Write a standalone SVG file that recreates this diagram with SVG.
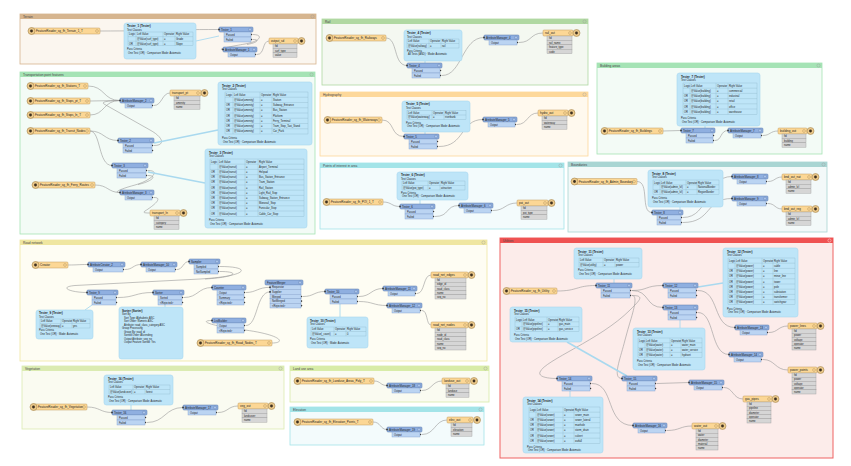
<svg xmlns="http://www.w3.org/2000/svg" width="851" height="466" viewBox="0 0 851 466">
<defs>
<style>
text{font-family:"Liberation Sans",Arial,sans-serif;font-size:3px;fill:#222}
.gl{font-size:3.2px;fill:#444}
.b{font-weight:bold}
.s{font-size:2.6px}
.h{font-size:2.8px}
.th{fill:#8fafe0;stroke:#5a78aa;stroke-width:.5}
.tp{fill:#bbd4f2;stroke:#7f9dca;stroke-width:.4}
.ti{fill:#aac4ea;stroke:#5a78aa;stroke-width:.4}
.rd{fill:#fcd795;stroke:#c09a5e;stroke-width:.5}
.rc{fill:#ecc98a;stroke:#a58650;stroke-width:.6}
.rdt{fill:#3d3020}
.ri{fill:none;stroke:#a58650;stroke-width:.4}
.wr{fill:#d6d6d6;stroke:#9c9c9c;stroke-width:.4}
.an{fill:#bee5f8;stroke:#a8d7ef;stroke-width:.6}
.tl{fill:none;stroke:#86acc0;stroke-width:.3}
.c{fill:none;stroke:#999;stroke-width:.6}
.al{fill:none;stroke:#a9d9ef;stroke-width:1.6}
.as{fill:none;stroke:#a9d9ef;stroke-width:.9}
.cx{fill:none;stroke:#9a9a9a;stroke-width:.4}
</style>
<path id="op" d="M0,-1.1L1.5,0L0,1.1z" fill="#333"/>
<rect id="ip" x="-0.8" y="-0.8" width="1.6" height="1.6" fill="#333"/>
</defs>
<rect width="851" height="466" fill="#fff"/>

<g id="bookmarks">
<g id="bm-1"><rect x="20" y="14" width="296" height="50" fill="#fbf6ef" stroke="#d6b58f" stroke-width=".8"/><rect x="20" y="14" width="296" height="5" fill="#d6b58f"/><text class="gl" x="23" y="17.8">Terrain</text><circle class="cx" cx="312.5" cy="16.5" r="1.6"/></g>
<g id="bm-2"><rect x="20" y="72" width="295" height="162" fill="#f3fbf6" stroke="#a5e3b5" stroke-width=".8"/><rect x="20" y="72" width="295" height="5" fill="#a5e3b5"/><text class="gl" x="23" y="75.8">Transportation point features</text><circle class="cx" cx="311.5" cy="74.5" r="1.6"/></g>
<g id="bm-3"><rect x="322" y="19" width="266" height="66" fill="#f4f8f1" stroke="#b0d8a2" stroke-width=".8"/><rect x="322" y="19" width="266" height="5" fill="#b0d8a2"/><text class="gl" x="325" y="22.8">Rail</text><circle class="cx" cx="584.5" cy="21.5" r="1.6"/></g>
<g id="bm-4"><rect x="320" y="92" width="268" height="64" fill="#fff9ee" stroke="#fdd89a" stroke-width=".8"/><rect x="320" y="92" width="268" height="5" fill="#fdd89a"/><text class="gl" x="323" y="95.8">Hydrography</text><circle class="cx" cx="584.5" cy="94.5" r="1.6"/></g>
<g id="bm-5"><rect x="320" y="163" width="244" height="66" fill="#f3fbfc" stroke="#a3e4e8" stroke-width=".8"/><rect x="320" y="163" width="244" height="5" fill="#a3e4e8"/><text class="gl" x="323" y="166.8">Points of interest in area</text><circle class="cx" cx="560.5" cy="165.5" r="1.6"/></g>
<g id="bm-6"><rect x="597" y="63" width="225" height="91" fill="#f3fbf6" stroke="#a5e3b5" stroke-width=".8"/><rect x="597" y="63" width="225" height="5" fill="#a5e3b5"/><text class="gl" x="600" y="66.8">Building areas</text><circle class="cx" cx="818.5" cy="65.5" r="1.6"/></g>
<g id="bm-7"><rect x="568" y="162" width="259" height="70" fill="#f3f9f9" stroke="#a9d5d3" stroke-width=".8"/><rect x="568" y="162" width="259" height="5" fill="#a9d5d3"/><text class="gl" x="571" y="165.8">Boundaries</text><circle class="cx" cx="823.5" cy="164.5" r="1.6"/></g>
<g id="bm-8"><rect x="20" y="240" width="467" height="121" fill="#fefdf3" stroke="#efe6a0" stroke-width=".8"/><rect x="20" y="240" width="467" height="5" fill="#efe6a0"/><text class="gl" x="23" y="243.8">Road network</text><circle class="cx" cx="483.5" cy="242.5" r="1.6"/></g>
<g id="bm-9"><rect x="500" y="238" width="333" height="220" fill="#fcecea" stroke="#ef6262" stroke-width="1"/><rect x="500" y="238" width="333" height="5" fill="#ef5252"/><text class="gl" x="503" y="241.8" fill="#fff">Utilities</text><circle cx="829.5" cy="240.5" r="1.6" fill="none" stroke="#fff" stroke-width=".4"/></g>
<g id="bm-10"><rect x="22" y="366" width="262" height="63" fill="#fafbf1" stroke="#dbebb2" stroke-width=".8"/><rect x="22" y="366" width="262" height="5" fill="#dbebb2"/><text class="gl" x="25" y="369.8">Vegetation</text><circle class="cx" cx="280.5" cy="368.5" r="1.6"/></g>
<g id="bm-11"><rect x="290" y="366" width="199" height="36" fill="#fafbf1" stroke="#d8eca8" stroke-width=".8"/><rect x="290" y="366" width="199" height="5" fill="#d8eca8"/><text class="gl" x="293" y="369.8">Land use area</text><circle class="cx" cx="485.5" cy="368.5" r="1.6"/></g>
<g id="bm-12"><rect x="290" y="407" width="194" height="38" fill="#f3fbfc" stroke="#a3e4e8" stroke-width=".8"/><rect x="290" y="407" width="194" height="5" fill="#a3e4e8"/><text class="gl" x="293" y="410.8">Elevation</text><circle class="cx" cx="480.5" cy="409.5" r="1.6"/></g>
</g>

<g id="connectors">
<path class="c" d="M100,31 C160,31 160,29.5 219,29.5"/>
<path class="c" d="M253,34.5 C263,34.5 262,41 245,44 C230,46.5 216,49.5 223,49.5"/>
<path class="c" d="M253,39.5 C260,39.5 258,42.5 247,44.5"/>
<path class="c" d="M257,54.5 C265,54.5 262,41 269,41"/>
<path class="as" d="M196,41 L219,36"/>

<path class="c" d="M88,86 C105,86 103,100.5 120,100.5"/>
<path class="c" d="M90,101 L120,100.5"/>
<path class="c" d="M90,115 C105,115 103,100.5 120,100.5"/>
<path class="c" d="M90,131 C104,131 104,140.5 118,140.5"/>
<path class="c" d="M90,131 C101,131 98,165.5 112,165.5"/>
<path class="c" d="M154,145.5 C166,145.5 163,137 150,130 L104,104 C100,101.5 112,100.5 120,100.5"/>
<path class="c" d="M148,170.5 C162,170.5 150,181 135,185 C122,188.5 112,192.5 120,192.5"/>
<path class="c" d="M148,175.5 C158,175.5 152,181.5 138,184.5"/>
<path class="c" d="M95,185 C108,185 108,192.5 120,192.5"/>
<path class="c" d="M154,197.5 C165,197.5 150,208 145,211 C142,213 146,213 150,213"/>
<path class="c" d="M154,105.5 C162,105.5 162,93 170,93"/>
<path class="al" d="M218,130 L154,143"/>
<path class="al" d="M205,183 L148,172"/>

<path class="c" d="M386,38 C398,38 393,65.5 407,65.5"/>
<path class="c" d="M442,75.5 C462,75.5 462,37.5 484,37.5"/>
<path class="c" d="M519,42.5 C532,42.5 530,33 543,33"/>
<path class="as" d="M425,61 V63"/>

<path class="c" d="M382,120 C395,120 390,136.5 404,136.5"/>
<path class="c" d="M439,146.5 C465,146.5 460,119.5 483,119.5"/>
<path class="c" d="M517,124.5 C528,124.5 527,113 538,113"/>
<path class="as" d="M425,132 V134"/>

<path class="c" d="M383,202 C392,202 391,206.5 400,206.5"/>
<path class="c" d="M435,216.5 C450,216.5 445,205.5 459,205.5"/>
<path class="c" d="M493,210.5 C505,210.5 505,203 517,203"/>
<path class="as" d="M420,200 V204"/>

<path class="c" d="M663,131 L681,130.5"/>
<path class="c" d="M715,140.5 C722,140.5 720,130.5 728,130.5"/>
<path class="c" d="M763,135.5 C770,135.5 770,131 778,131"/>
<path class="as" d="M705,126 V128"/>

<path class="c" d="M637,181.5 C650,181.5 640,212.5 652,212.5"/>
<path class="c" d="M683,217.5 C710,217.5 705,176.5 732,176.5"/>
<path class="c" d="M683,222.5 C712,222.5 705,198.5 732,198.5"/>
<path class="c" d="M768,181.5 C775,181.5 775,177 782,177"/>
<path class="c" d="M768,203.5 C775,203.5 775,209 782,209"/>
<path class="as" d="M680,207 V210"/>

<path class="c" d="M68,265 C78,265 78,264.5 88,264.5"/>
<path class="c" d="M125,269.5 C133,269.5 133,264.5 141,264.5"/>
<path class="c" d="M177,269.5 C183,269.5 183,261.5 189,261.5"/>
<path class="c" d="M220,266.5 C252,266.5 250,276 200,279 L75,285.5 C58,287 70,292.5 87,292.5"/>
<path class="c" d="M220,271.5 C240,271.5 238,277 205,279"/>
<path class="c" d="M118,297.5 C135,297.5 135,292.5 153,292.5"/>
<path class="c" d="M184,297.5 C198,297.5 198,287.5 212,287.5"/>
<path class="c" d="M246,292.5 C256,292.5 258,287.3 270,287.3"/>
<path class="c" d="M246,325.5 C258,325.5 256,291.9 270,291.9"/>
<path class="c" d="M272,343 C286,343 282,335 245,330 C210,326 198,320.5 212,320.5"/>
<path class="c" d="M303,296.5 C314,296.5 314,291.5 325,291.5"/>
<path class="c" d="M359,296.5 C371,296.5 371,288.5 383,288.5"/>
<path class="c" d="M359,301.5 C373,301.5 373,305.5 387,305.5"/>
<path class="c" d="M417,293.5 C425,293.5 423,275 431,275"/>
<path class="c" d="M422,310.5 C428,310.5 426,325 431,325"/>
<path class="as" d="M85,310 L92,305"/>
<path class="as" d="M165,307 V305"/>
<path class="as" d="M340,317 V304"/>

<path class="c" d="M557,291 C578,291 576,285.5 596,285.5"/>
<path class="c" d="M632,290.5 C648,290.5 645,285.5 663,285.5"/>
<path class="c" d="M632,290.5 C650,290.5 645,307.5 663,307.5"/>
<path class="c" d="M632,295.5 C645,295.5 640,300 630,310 C600,340 545,360 540,372 C538,377 548,378.5 557,378.5"/>
<path class="c" d="M632,295.5 C640,295.5 630,320 625,340 C620,360 612,378.5 622,378.5"/>
<path class="c" d="M698,290.5 C720,290.5 712,327.5 735,327.5"/>
<path class="c" d="M698,312.5 C715,312.5 710,354.5 729,354.5"/>
<path class="c" d="M769,332.5 C778,332.5 778,326 788,326"/>
<path class="c" d="M763,359.5 C775,359.5 775,370 788,370"/>
<path class="c" d="M592,383.5 C615,383.5 605,425.5 633,425.5"/>
<path class="c" d="M657,383.5 L689,382.5"/>
<path class="c" d="M724,387.5 C733,387.5 733,399 743,399"/>
<path class="c" d="M667,430.5 C680,430.5 680,426 692,426"/>
<path class="as" d="M614,279 V283"/>
<path class="al" d="M723,283 L698,287"/>
<path class="al" d="M567,342 L627,376"/>
<path class="as" d="M680,328 V320"/>
<path class="as" d="M570,397 V391"/>

<path class="c" d="M87,407 C100,407 100,412.5 112,412.5"/>
<path class="c" d="M147,422.5 C165,422.5 165,407.5 183,407.5"/>
<path class="c" d="M218,412.5 C228,412.5 228,406 238,406"/>
<path class="as" d="M131,405 V410"/>

<path class="c" d="M374,381 C381,381 380,385.5 387,385.5"/>
<path class="c" d="M422,390.5 C432,390.5 432,381 442,381"/>
<path class="c" d="M373,422 C381,422 380,429.5 387,429.5"/>
<path class="c" d="M422,434.5 C435,434.5 435,420 447,420"/>
</g>

<!-- ===== G1 ===== -->
<g id="reader-terrain"><rect class="rd" x="30" y="28" width="70" height="6" rx="1"/><circle class="rc" cx="31.5" cy="31" r="3.5"/><circle class="rdt" cx="31.5" cy="31" r="1.4"/><text x="36" y="32.1">FeatureReader_sg_fh_Terrain_1_T</text><circle class="ri" cx="97" cy="31" r="1.4"/></g>
<g id="ann-1"><rect class="an" x="124" y="23" width="72" height="36" rx="2.5"/><text class="b" x="127" y="27">Tester_1 (Tester)</text><text class="s" x="127" y="30.5">Test Clauses</text><rect class="tl" x="128" y="32" width="65" height="13.8"/><path class="tl" d="M128,36.6H193M128,41.2H193M136,32V45.8M163,32V45.8M175,32V45.8"/><text class="s" x="129" y="35.3">Logic</text><text class="s" x="137" y="35.3">Left Value</text><text class="s" x="164" y="35.3">Operator</text><text class="s" x="176" y="35.3">Right Value</text><text class="s" x="137" y="39.9">@Value(surf_type)</text><text class="s" x="164" y="39.9">=</text><text class="s" x="176" y="39.9">Grade</text><text class="s" x="129" y="44.5">OR</text><text class="s" x="137" y="44.5">@Value(surf_type)</text><text class="s" x="164" y="44.5">=</text><text class="s" x="176" y="44.5">Slope</text><text class="s" x="127" y="50">Pass Criteria</text><text class="s" x="128" y="53.5">One Test (OR) · Comparison Mode: Automatic</text></g>
<g id="tester-1"><rect class="th" x="219" y="27" width="34" height="5" rx="1"/><circle class="ti" cx="250" cy="29.5" r="1.5"/><text class="h" x="221" y="30.6">Tester_1</text><rect class="tp" x="224" y="32" width="27" height="5"/><text class="s" x="226" y="35.5">Passed</text><rect class="tp" x="224" y="37" width="27" height="5"/><text class="s" x="226" y="40.5">Failed</text><use href="#ip" x="219" y="29.5"/><use href="#op" x="251" y="34.5"/><use href="#op" x="251" y="39.5"/></g>
<g id="attrmgr-1"><rect class="th" x="223" y="47" width="34" height="5" rx="1"/><circle class="ti" cx="254" cy="49.5" r="1.5"/><text class="h" x="225" y="50.6">AttributeManager_1</text><rect class="tp" x="228" y="52" width="27" height="5"/><text class="s" x="230" y="55.5">Output</text><use href="#ip" x="223" y="49.5"/><use href="#op" x="255" y="54.5"/></g>
<g id="writer-1"><rect class="rd" x="269" y="38" width="29" height="6" rx="1"/><text x="271" y="42">output_sd</text><circle class="ri" cx="295" cy="41" r="1.4"/><circle class="rc" cx="301.5" cy="41" r="3.5"/><circle class="rdt" cx="301.5" cy="41" r="1.4"/><rect class="wr" x="273" y="44" width="24" height="4.4"/><text class="s" x="275" y="47.3">fid</text><rect class="wr" x="273" y="48.4" width="24" height="4.4"/><text class="s" x="275" y="51.7">surf_type</text><rect class="wr" x="273" y="52.8" width="24" height="4.4"/><text class="s" x="275" y="56.1">value</text></g>

<!-- ===== G2 ===== -->
<g id="reader-2a"><rect class="rd" x="29" y="83" width="59" height="6" rx="1"/><circle class="rc" cx="30.5" cy="86" r="3.5"/><circle class="rdt" cx="30.5" cy="86" r="1.4"/><text x="35" y="87.1">FeatureReader_sg_fh_Stations_T</text><circle class="ri" cx="85" cy="86" r="1.4"/></g>
<g id="reader-2b"><rect class="rd" x="29" y="98" width="61" height="6" rx="1"/><circle class="rc" cx="30.5" cy="101" r="3.5"/><circle class="rdt" cx="30.5" cy="101" r="1.4"/><text x="35" y="102.1">FeatureReader_sg_fh_Stops_pt_T</text><circle class="ri" cx="87" cy="101" r="1.4"/></g>
<g id="reader-2c"><rect class="rd" x="29" y="112" width="61" height="6" rx="1"/><circle class="rc" cx="30.5" cy="115" r="3.5"/><circle class="rdt" cx="30.5" cy="115" r="1.4"/><text x="35" y="116.1">FeatureReader_sg_fh_Stops_ln_T</text><circle class="ri" cx="87" cy="115" r="1.4"/></g>
<g id="reader-2d"><rect class="rd" x="29" y="128" width="61" height="6" rx="1"/><circle class="rc" cx="30.5" cy="131" r="3.5"/><circle class="rdt" cx="30.5" cy="131" r="1.4"/><text x="35" y="132.1">FeatureReader_sg_fh_Transit_Nodes</text><circle class="ri" cx="87" cy="131" r="1.4"/></g>
<g id="reader-2e"><rect class="rd" x="34" y="182" width="61" height="6" rx="1"/><circle class="rc" cx="35.5" cy="185" r="3.5"/><circle class="rdt" cx="35.5" cy="185" r="1.4"/><text x="40" y="186.1">FeatureReader_sg_fh_Ferry_Routes</text><circle class="ri" cx="92" cy="185" r="1.4"/></g>
<g id="attrmgr-2"><rect class="th" x="120" y="98" width="34" height="5" rx="1"/><circle class="ti" cx="151" cy="100.5" r="1.5"/><text class="h" x="122" y="101.6">AttributeManager_2</text><rect class="tp" x="125" y="103" width="27" height="5"/><text class="s" x="127" y="106.5">Output</text><use href="#ip" x="120" y="100.5"/><use href="#op" x="152" y="105.5"/></g>
<g id="writer-2a"><rect class="rd" x="170" y="90" width="31" height="6" rx="1"/><text x="172" y="94">transport_pt</text><circle class="ri" cx="198" cy="93" r="1.4"/><circle class="rc" cx="204.5" cy="93" r="3.5"/><circle class="rdt" cx="204.5" cy="93" r="1.4"/><rect class="wr" x="174" y="96" width="26" height="4.4"/><text class="s" x="176" y="99.3">fid</text><rect class="wr" x="174" y="100.4" width="26" height="4.4"/><text class="s" x="176" y="103.7">amenity</text><rect class="wr" x="174" y="104.8" width="26" height="4.4"/><text class="s" x="176" y="108.1">name</text></g>
<g id="tester-2"><rect class="th" x="118" y="138" width="36" height="5" rx="1"/><circle class="ti" cx="151" cy="140.5" r="1.5"/><text class="h" x="120" y="141.6">Tester_2</text><rect class="tp" x="123" y="143" width="29" height="5"/><text class="s" x="125" y="146.5">Passed</text><rect class="tp" x="123" y="148" width="29" height="5"/><text class="s" x="125" y="151.5">Failed</text><use href="#ip" x="118" y="140.5"/><use href="#op" x="152" y="145.5"/><use href="#op" x="152" y="150.5"/></g>
<g id="tester-3"><rect class="th" x="112" y="163" width="36" height="5" rx="1"/><circle class="ti" cx="145" cy="165.5" r="1.5"/><text class="h" x="114" y="166.6">Tester_3</text><rect class="tp" x="117" y="168" width="29" height="5"/><text class="s" x="119" y="171.5">Passed</text><rect class="tp" x="117" y="173" width="29" height="5"/><text class="s" x="119" y="176.5">Failed</text><use href="#ip" x="112" y="165.5"/><use href="#op" x="146" y="170.5"/><use href="#op" x="146" y="175.5"/></g>
<g id="attrmgr-3"><rect class="th" x="120" y="190" width="34" height="5" rx="1"/><circle class="ti" cx="151" cy="192.5" r="1.5"/><text class="h" x="122" y="193.6">AttributeManager_3</text><rect class="tp" x="125" y="195" width="27" height="5"/><text class="s" x="127" y="198.5">Output</text><use href="#ip" x="120" y="192.5"/><use href="#op" x="152" y="197.5"/></g>
<g id="writer-2b"><rect class="rd" x="150" y="210" width="30" height="6" rx="1"/><text x="152" y="214">transport_ln</text><circle class="ri" cx="177" cy="213" r="1.4"/><circle class="rc" cx="183.5" cy="213" r="3.5"/><circle class="rdt" cx="183.5" cy="213" r="1.4"/><rect class="wr" x="154" y="216" width="25" height="4.4"/><text class="s" x="156" y="219.3">fid</text><rect class="wr" x="154" y="220.4" width="25" height="4.4"/><text class="s" x="156" y="223.7">category</text><rect class="wr" x="154" y="224.8" width="25" height="4.4"/><text class="s" x="156" y="228.1">name</text></g>
<g id="ann-2a"><rect class="an" x="218" y="82" width="94" height="63" rx="2.5"/><text class="b" x="222" y="86.5">Tester_2 (Tester)</text><text class="s" x="222" y="90">Test Clauses</text><rect class="tl" x="225" y="92" width="83" height="42"/><path class="tl" d="M225,97.25H308M225,102.5H308M225,107.75H308M225,113H308M225,118.25H308M225,123.5H308M225,128.75H308M233,92V134M260,92V134M272,92V134"/>
<text class="s" x="226" y="95.7">Logic</text><text class="s" x="234" y="95.7">Left Value</text><text class="s" x="261" y="95.7">Operator</text><text class="s" x="273" y="95.7">Right Value</text>
<text class="s" x="234" y="100.95">@Value(amenity)</text><text class="s" x="261" y="100.95">=</text><text class="s" x="273" y="100.95">Station</text>
<text class="s" x="226" y="106.2">OR</text><text class="s" x="234" y="106.2">@Value(amenity)</text><text class="s" x="261" y="106.2">=</text><text class="s" x="273" y="106.2">Subway_Entrance</text>
<text class="s" x="226" y="111.45">OR</text><text class="s" x="234" y="111.45">@Value(amenity)</text><text class="s" x="261" y="111.45">=</text><text class="s" x="273" y="111.45">Bus_Station</text>
<text class="s" x="226" y="116.7">OR</text><text class="s" x="234" y="116.7">@Value(amenity)</text><text class="s" x="261" y="116.7">=</text><text class="s" x="273" y="116.7">Platform</text>
<text class="s" x="226" y="121.95">OR</text><text class="s" x="234" y="121.95">@Value(amenity)</text><text class="s" x="261" y="121.95">=</text><text class="s" x="273" y="121.95">Ferry_Terminal</text>
<text class="s" x="226" y="127.2">OR</text><text class="s" x="234" y="127.2">@Value(amenity)</text><text class="s" x="261" y="127.2">=</text><text class="s" x="273" y="127.2">Tram_Stop_Taxi_Stand</text>
<text class="s" x="226" y="132.45">OR</text><text class="s" x="234" y="132.45">@Value(amenity)</text><text class="s" x="261" y="132.45">=</text><text class="s" x="273" y="132.45">Car_Park</text>
<text class="s" x="222" y="139">Pass Criteria</text><text class="s" x="223" y="142.5">One Test (OR) · Comparison Mode: Automatic</text></g>
<g id="ann-2b"><rect class="an" x="205" y="149" width="102" height="79" rx="2.5"/><text class="b" x="209" y="153.5">Tester_3 (Tester)</text><text class="s" x="209" y="157">Test Clauses</text><rect class="tl" x="210" y="159" width="94" height="57.2"/><path class="tl" d="M210,164.2H304M210,169.4H304M210,174.6H304M210,179.8H304M210,185H304M210,190.2H304M210,195.4H304M210,200.6H304M210,205.8H304M210,211H304M218,159V216.2M245,159V216.2M258,159V216.2"/>
<text class="s" x="211" y="162.6">Logic</text><text class="s" x="219" y="162.6">Left Value</text><text class="s" x="246" y="162.6">Operator</text><text class="s" x="259" y="162.6">Right Value</text>
<text class="s" x="219" y="167.8">@Value(transit)</text><text class="s" x="246" y="167.8">=</text><text class="s" x="259" y="167.8">Airport_Terminal</text>
<text class="s" x="211" y="173">OR</text><text class="s" x="219" y="173">@Value(transit)</text><text class="s" x="246" y="173">=</text><text class="s" x="259" y="173">Helipad</text>
<text class="s" x="211" y="178.2">OR</text><text class="s" x="219" y="178.2">@Value(transit)</text><text class="s" x="246" y="178.2">=</text><text class="s" x="259" y="178.2">Bus_Station_Entrance</text>
<text class="s" x="211" y="183.4">OR</text><text class="s" x="219" y="183.4">@Value(transit)</text><text class="s" x="246" y="183.4">=</text><text class="s" x="259" y="183.4">Tram_Station</text>
<text class="s" x="211" y="188.6">OR</text><text class="s" x="219" y="188.6">@Value(transit)</text><text class="s" x="246" y="188.6">=</text><text class="s" x="259" y="188.6">Rail_Station</text>
<text class="s" x="211" y="193.8">OR</text><text class="s" x="219" y="193.8">@Value(transit)</text><text class="s" x="246" y="193.8">=</text><text class="s" x="259" y="193.8">Light_Rail_Stop</text>
<text class="s" x="211" y="199">OR</text><text class="s" x="219" y="199">@Value(transit)</text><text class="s" x="246" y="199">=</text><text class="s" x="259" y="199">Subway_Station_Entrance</text>
<text class="s" x="211" y="204.2">OR</text><text class="s" x="219" y="204.2">@Value(transit)</text><text class="s" x="246" y="204.2">=</text><text class="s" x="259" y="204.2">Monorail_Stop</text>
<text class="s" x="211" y="209.4">OR</text><text class="s" x="219" y="209.4">@Value(transit)</text><text class="s" x="246" y="209.4">=</text><text class="s" x="259" y="209.4">Funicular_Stop</text>
<text class="s" x="211" y="214.6">OR</text><text class="s" x="219" y="214.6">@Value(transit)</text><text class="s" x="246" y="214.6">=</text><text class="s" x="259" y="214.6">Cable_Car_Stop</text>
<text class="s" x="209" y="221">Pass Criteria</text><text class="s" x="210" y="224.5">One Test (OR) · Comparison Mode: Automatic</text></g>

<!-- ===== G3 ===== -->
<g id="reader-3"><rect class="rd" x="328" y="35" width="58" height="6" rx="1"/><circle class="rc" cx="329.5" cy="38" r="3.5"/><circle class="rdt" cx="329.5" cy="38" r="1.4"/><text x="334" y="39.1">FeatureReader_sg_fh_Railways</text><circle class="ri" cx="383" cy="38" r="1.4"/></g>
<g id="ann-3"><rect class="an" x="404" y="30" width="58" height="31" rx="2.5"/><text class="b" x="407" y="34">Tester_4 (Tester)</text><text class="s" x="407" y="37.5">Test Clauses</text><rect class="tl" x="407" y="39" width="52" height="9"/><path class="tl" d="M407,43.5H459M429,39V48M441,39V48"/><text class="s" x="408" y="42.2">Left Value</text><text class="s" x="430" y="42.2">Operator</text><text class="s" x="442" y="42.2">Right Value</text><text class="s" x="408" y="46.7">@Value(railway)</text><text class="s" x="430" y="46.7">=</text><text class="s" x="442" y="46.7">rail</text><text class="s" x="407" y="51.5">Pass Criteria</text><text class="s" x="408" y="55">All Tests (AND) · Mode: Automatic</text></g>
<g id="tester-4"><rect class="th" x="407" y="63" width="35" height="5" rx="1"/><circle class="ti" cx="439" cy="65.5" r="1.5"/><text class="h" x="409" y="66.6">Tester_4</text><rect class="tp" x="412" y="68" width="28" height="5"/><text class="s" x="414" y="71.5">Passed</text><rect class="tp" x="412" y="73" width="28" height="5"/><text class="s" x="414" y="76.5">Failed</text><use href="#ip" x="407" y="65.5"/><use href="#op" x="440" y="70.5"/><use href="#op" x="440" y="75.5"/></g>
<g id="attrmgr-4"><rect class="th" x="484" y="35" width="35" height="5" rx="1"/><circle class="ti" cx="516" cy="37.5" r="1.5"/><text class="h" x="486" y="38.6">AttributeManager_4</text><rect class="tp" x="489" y="40" width="28" height="5"/><text class="s" x="491" y="43.5">Output</text><use href="#ip" x="484" y="37.5"/><use href="#op" x="517" y="42.5"/></g>
<g id="writer-3"><rect class="rd" x="543" y="30" width="30" height="6" rx="1"/><text x="545" y="34">rail_out</text><circle class="ri" cx="570" cy="33" r="1.4"/><circle class="rc" cx="576.5" cy="33" r="3.5"/><circle class="rdt" cx="576.5" cy="33" r="1.4"/><rect class="wr" x="547" y="36" width="25" height="4.4"/><text class="s" x="549" y="39.3">fid</text><rect class="wr" x="547" y="40.4" width="25" height="4.4"/><text class="s" x="549" y="43.7">rail_name</text><rect class="wr" x="547" y="44.8" width="25" height="4.4"/><text class="s" x="549" y="48.1">feature_type</text><rect class="wr" x="547" y="49.2" width="25" height="4.4"/><text class="s" x="549" y="52.5">code</text></g>

<!-- ===== G4 ===== -->
<g id="reader-4"><rect class="rd" x="326" y="117" width="56" height="6" rx="1"/><circle class="rc" cx="327.5" cy="120" r="3.5"/><circle class="rdt" cx="327.5" cy="120" r="1.4"/><text x="332" y="121.1">FeatureReader_sg_fh_Waterways</text><circle class="ri" cx="379" cy="120" r="1.4"/></g>
<g id="ann-4"><rect class="an" x="402" y="101" width="68" height="31" rx="2.5"/><text class="b" x="406" y="105">Tester_5 (Tester)</text><text class="s" x="406" y="108.5">Test Clauses</text><rect class="tl" x="407" y="110.5" width="59" height="9"/><path class="tl" d="M407,115H466M432,110.5V119.5M444,110.5V119.5"/><text class="s" x="408" y="113.7">Left Value</text><text class="s" x="433" y="113.7">Operator</text><text class="s" x="445" y="113.7">Right Value</text><text class="s" x="408" y="118.2">@Value(waterway)</text><text class="s" x="433" y="118.2">=</text><text class="s" x="445" y="118.2">riverbank</text><text class="s" x="406" y="123.5">Pass Criteria</text><text class="s" x="407" y="127">One Test (OR) · Comparison Mode: Automatic</text></g>
<g id="tester-5"><rect class="th" x="404" y="134" width="35" height="5" rx="1"/><circle class="ti" cx="436" cy="136.5" r="1.5"/><text class="h" x="406" y="137.6">Tester_5</text><rect class="tp" x="409" y="139" width="28" height="5"/><text class="s" x="411" y="142.5">Passed</text><rect class="tp" x="409" y="144" width="28" height="5"/><text class="s" x="411" y="147.5">Failed</text><use href="#ip" x="404" y="136.5"/><use href="#op" x="437" y="141.5"/><use href="#op" x="437" y="146.5"/></g>
<g id="attrmgr-5"><rect class="th" x="483" y="117" width="34" height="5" rx="1"/><circle class="ti" cx="514" cy="119.5" r="1.5"/><text class="h" x="485" y="120.6">AttributeManager_5</text><rect class="tp" x="488" y="122" width="27" height="5"/><text class="s" x="490" y="125.5">Output</text><use href="#ip" x="483" y="119.5"/><use href="#op" x="515" y="124.5"/></g>
<g id="writer-4"><rect class="rd" x="538" y="110" width="30" height="6" rx="1"/><text x="540" y="114">hydro_out</text><circle class="ri" cx="565" cy="113" r="1.4"/><circle class="rc" cx="571.5" cy="113" r="3.5"/><circle class="rdt" cx="571.5" cy="113" r="1.4"/><rect class="wr" x="542" y="116" width="25" height="4.4"/><text class="s" x="544" y="119.3">fid</text><rect class="wr" x="542" y="120.4" width="25" height="4.4"/><text class="s" x="544" y="123.7">waterway</text><rect class="wr" x="542" y="124.8" width="25" height="4.4"/><text class="s" x="544" y="128.1">name</text></g>

<!-- ===== G5 ===== -->
<g id="reader-5"><rect class="rd" x="325" y="199" width="58" height="6" rx="1"/><circle class="rc" cx="326.5" cy="202" r="3.5"/><circle class="rdt" cx="326.5" cy="202" r="1.4"/><text x="331" y="203.1">FeatureReader_sg_fh_POI_1_T</text><circle class="ri" cx="380" cy="202" r="1.4"/></g>
<g id="ann-5"><rect class="an" x="397" y="172" width="71" height="28" rx="2.5"/><text class="b" x="401" y="176">Tester_6 (Tester)</text><text class="s" x="401" y="179.5">Test Clauses</text><rect class="tl" x="402" y="181" width="63" height="9"/><path class="tl" d="M402,185.5H465M428,181V190M440,181V190"/><text class="s" x="403" y="184.2">Left Value</text><text class="s" x="429" y="184.2">Operator</text><text class="s" x="441" y="184.2">Right Value</text><text class="s" x="403" y="188.7">@Value(poi_type)</text><text class="s" x="429" y="188.7">=</text><text class="s" x="441" y="188.7">attraction</text><text class="s" x="401" y="193.5">Pass Criteria</text><text class="s" x="402" y="197">One Test (OR) · Comparison Mode: Automatic</text></g>
<g id="tester-6"><rect class="th" x="400" y="204" width="35" height="5" rx="1"/><circle class="ti" cx="432" cy="206.5" r="1.5"/><text class="h" x="402" y="207.6">Tester_6</text><rect class="tp" x="405" y="209" width="28" height="5"/><text class="s" x="407" y="212.5">Passed</text><rect class="tp" x="405" y="214" width="28" height="5"/><text class="s" x="407" y="217.5">Failed</text><use href="#ip" x="400" y="206.5"/><use href="#op" x="433" y="211.5"/><use href="#op" x="433" y="216.5"/></g>
<g id="attrmgr-6"><rect class="th" x="459" y="203" width="34" height="5" rx="1"/><circle class="ti" cx="490" cy="205.5" r="1.5"/><text class="h" x="461" y="206.6">AttributeManager_6</text><rect class="tp" x="464" y="208" width="27" height="5"/><text class="s" x="466" y="211.5">Output</text><use href="#ip" x="459" y="205.5"/><use href="#op" x="491" y="210.5"/></g>
<g id="writer-5"><rect class="rd" x="517" y="200" width="31" height="6" rx="1"/><text x="519" y="204">poi_out</text><circle class="ri" cx="545" cy="203" r="1.4"/><circle class="rc" cx="551.5" cy="203" r="3.5"/><circle class="rdt" cx="551.5" cy="203" r="1.4"/><rect class="wr" x="521" y="206" width="26" height="4.4"/><text class="s" x="523" y="209.3">fid</text><rect class="wr" x="521" y="210.4" width="26" height="4.4"/><text class="s" x="523" y="213.7">poi_type</text><rect class="wr" x="521" y="214.8" width="26" height="4.4"/><text class="s" x="523" y="218.1">name</text></g>

<!-- ===== G6 ===== -->
<g id="ann-6"><rect class="an" x="677" y="73" width="83" height="53" rx="2.5"/><text class="b" x="681" y="77.5">Tester_7 (Tester)</text><text class="s" x="681" y="81">Test Clauses</text><rect class="tl" x="683" y="83" width="74" height="31.2"/><path class="tl" d="M683,88.2H757M683,93.4H757M683,98.6H757M683,103.8H757M683,109H757M690,83V114.2M716,83V114.2M728,83V114.2"/>
<text class="s" x="684" y="86.7">Logic</text><text class="s" x="691" y="86.7">Left Value</text><text class="s" x="717" y="86.7">Operator</text><text class="s" x="729" y="86.7">Right Value</text>
<text class="s" x="691" y="91.9">@Value(building)</text><text class="s" x="717" y="91.9">=</text><text class="s" x="729" y="91.9">commercial</text>
<text class="s" x="684" y="97.1">OR</text><text class="s" x="691" y="97.1">@Value(building)</text><text class="s" x="717" y="97.1">=</text><text class="s" x="729" y="97.1">industrial</text>
<text class="s" x="684" y="102.3">OR</text><text class="s" x="691" y="102.3">@Value(building)</text><text class="s" x="717" y="102.3">=</text><text class="s" x="729" y="102.3">retail</text>
<text class="s" x="684" y="107.5">OR</text><text class="s" x="691" y="107.5">@Value(building)</text><text class="s" x="717" y="107.5">=</text><text class="s" x="729" y="107.5">office</text>
<text class="s" x="684" y="112.7">OR</text><text class="s" x="691" y="112.7">@Value(building)</text><text class="s" x="717" y="112.7">=</text><text class="s" x="729" y="112.7">warehouse</text>
<text class="s" x="681" y="119">Pass Criteria</text><text class="s" x="682" y="122.5">One Test (OR) · Comparison Mode: Automatic</text></g>
<g id="reader-6"><rect class="rd" x="603" y="128" width="60" height="6" rx="1"/><circle class="rc" cx="604.5" cy="131" r="3.5"/><circle class="rdt" cx="604.5" cy="131" r="1.4"/><text x="609" y="132.1">FeatureReader_sg_fh_Buildings</text><circle class="ri" cx="660" cy="131" r="1.4"/></g>
<g id="tester-7"><rect class="th" x="681" y="128" width="34" height="5" rx="1"/><circle class="ti" cx="712" cy="130.5" r="1.5"/><text class="h" x="683" y="131.6">Tester_7</text><rect class="tp" x="686" y="133" width="27" height="5"/><text class="s" x="688" y="136.5">Passed</text><rect class="tp" x="686" y="138" width="27" height="5"/><text class="s" x="688" y="141.5">Failed</text><use href="#ip" x="681" y="130.5"/><use href="#op" x="713" y="135.5"/><use href="#op" x="713" y="140.5"/></g>
<g id="attrmgr-7"><rect class="th" x="728" y="128" width="35" height="5" rx="1"/><circle class="ti" cx="760" cy="130.5" r="1.5"/><text class="h" x="730" y="131.6">AttributeManager_7</text><rect class="tp" x="733" y="133" width="28" height="5"/><text class="s" x="735" y="136.5">Output</text><use href="#ip" x="728" y="130.5"/><use href="#op" x="761" y="135.5"/></g>
<g id="writer-6"><rect class="rd" x="778" y="128" width="29" height="6" rx="1"/><text x="780" y="132">building_out</text><circle class="ri" cx="804" cy="131" r="1.4"/><circle class="rc" cx="810.5" cy="131" r="3.5"/><circle class="rdt" cx="810.5" cy="131" r="1.4"/><rect class="wr" x="782" y="134" width="24" height="4.4"/><text class="s" x="784" y="137.3">fid</text><rect class="wr" x="782" y="138.4" width="24" height="4.4"/><text class="s" x="784" y="141.7">building</text><rect class="wr" x="782" y="142.8" width="24" height="4.4"/><text class="s" x="784" y="146.1">name</text></g>

<!-- ===== G7 ===== -->
<g id="reader-7"><rect class="rd" x="573" y="178.5" width="64" height="6" rx="1"/><circle class="rc" cx="574.5" cy="181.5" r="3.5"/><circle class="rdt" cx="574.5" cy="181.5" r="1.4"/><text x="579" y="182.6">FeatureReader_sg_fh_Admin_Boundary</text><circle class="ri" cx="634" cy="181.5" r="1.4"/></g>
<g id="ann-7"><rect class="an" x="648" y="170" width="75" height="37" rx="2.5"/><text class="b" x="652" y="174.5">Tester_8 (Tester)</text><text class="s" x="652" y="178">Test Clauses</text><rect class="tl" x="653" y="180" width="66" height="14.4"/><path class="tl" d="M653,184.8H719M653,189.6H719M660,180V194.4M686,180V194.4M697,180V194.4"/><text class="s" x="654" y="183.5">Logic</text><text class="s" x="661" y="183.5">Left Value</text><text class="s" x="687" y="183.5">Operator</text><text class="s" x="698" y="183.5">Right Value</text><text class="s" x="661" y="188.3">@Value(admin_lvl)</text><text class="s" x="687" y="188.3">=</text><text class="s" x="698" y="188.3">NationalBorder</text><text class="s" x="654" y="193.1">OR</text><text class="s" x="661" y="193.1">@Value(admin_lvl)</text><text class="s" x="687" y="193.1">=</text><text class="s" x="698" y="193.1">RegionBorder</text><text class="s" x="652" y="199">Pass Criteria</text><text class="s" x="653" y="202.5">One Test (OR) · Comparison Mode: Automatic</text></g>
<g id="tester-8"><rect class="th" x="652" y="210" width="31" height="5" rx="1"/><circle class="ti" cx="680" cy="212.5" r="1.5"/><text class="h" x="654" y="213.6">Tester_8</text><rect class="tp" x="657" y="215" width="24" height="5"/><text class="s" x="659" y="218.5">Passed</text><rect class="tp" x="657" y="220" width="24" height="5"/><text class="s" x="659" y="223.5">Failed</text><use href="#ip" x="652" y="212.5"/><use href="#op" x="681" y="217.5"/><use href="#op" x="681" y="222.5"/></g>
<g id="attrmgr-8a"><rect class="th" x="732" y="174" width="36" height="5" rx="1"/><circle class="ti" cx="765" cy="176.5" r="1.5"/><text class="h" x="734" y="177.6">AttributeManager_8</text><rect class="tp" x="737" y="179" width="29" height="5"/><text class="s" x="739" y="182.5">Output</text><use href="#ip" x="732" y="176.5"/><use href="#op" x="766" y="181.5"/></g>
<g id="attrmgr-8b"><rect class="th" x="732" y="196" width="36" height="5" rx="1"/><circle class="ti" cx="765" cy="198.5" r="1.5"/><text class="h" x="734" y="199.6">AttributeManager_9</text><rect class="tp" x="737" y="201" width="29" height="5"/><text class="s" x="739" y="204.5">Output</text><use href="#ip" x="732" y="198.5"/><use href="#op" x="766" y="203.5"/></g>
<g id="writer-7a"><rect class="rd" x="782" y="174" width="30" height="6" rx="1"/><text x="784" y="178">bnd_out_nat</text><circle class="ri" cx="809" cy="177" r="1.4"/><circle class="rc" cx="815.5" cy="177" r="3.5"/><circle class="rdt" cx="815.5" cy="177" r="1.4"/><rect class="wr" x="786" y="180" width="25" height="4.4"/><text class="s" x="788" y="183.3">fid</text><rect class="wr" x="786" y="184.4" width="25" height="4.4"/><text class="s" x="788" y="187.7">admin_lvl</text><rect class="wr" x="786" y="188.8" width="25" height="4.4"/><text class="s" x="788" y="192.1">name</text></g>
<g id="writer-7b"><rect class="rd" x="782" y="206" width="30" height="6" rx="1"/><text x="784" y="210">bnd_out_reg</text><circle class="ri" cx="809" cy="209" r="1.4"/><circle class="rc" cx="815.5" cy="209" r="3.5"/><circle class="rdt" cx="815.5" cy="209" r="1.4"/><rect class="wr" x="786" y="212" width="25" height="4.4"/><text class="s" x="788" y="215.3">fid</text><rect class="wr" x="786" y="216.4" width="25" height="4.4"/><text class="s" x="788" y="219.7">admin_lvl</text><rect class="wr" x="786" y="220.8" width="25" height="4.4"/><text class="s" x="788" y="224.1">name</text></g>

<!-- ===== G8 ===== -->
<g id="creator"><rect class="rd" x="34" y="262" width="34" height="6" rx="1"/><circle class="rc" cx="35.5" cy="265" r="3.5"/><circle class="rdt" cx="35.5" cy="265" r="1.4"/><text x="40" y="266.1">Creator</text><circle class="ri" cx="65" cy="265" r="1.4"/></g>
<g id="t8a"><rect class="th" x="88" y="262" width="37" height="5" rx="1"/><circle class="ti" cx="122" cy="264.5" r="1.5"/><text class="h" x="90" y="265.6">AttributeCreator_2</text><rect class="tp" x="93" y="267" width="30" height="5"/><text class="s" x="95" y="270.5">Output</text><use href="#ip" x="88" y="264.5"/><use href="#op" x="123" y="269.5"/></g>
<g id="t8b"><rect class="th" x="141" y="262" width="36" height="5" rx="1"/><circle class="ti" cx="174" cy="264.5" r="1.5"/><text class="h" x="143" y="265.6">AttributeManager_10</text><rect class="tp" x="146" y="267" width="29" height="5"/><text class="s" x="148" y="270.5">Output</text><use href="#ip" x="141" y="264.5"/><use href="#op" x="175" y="269.5"/></g>
<g id="t8c"><rect class="th" x="189" y="259" width="31" height="5" rx="1"/><circle class="ti" cx="217" cy="261.5" r="1.5"/><text class="h" x="191" y="262.6">Sampler</text><rect class="tp" x="194" y="264" width="24" height="5"/><text class="s" x="196" y="267.5">Sampled</text><rect class="tp" x="194" y="269" width="24" height="5"/><text class="s" x="196" y="272.5">NotSampled</text><use href="#ip" x="189" y="261.5"/><use href="#op" x="218" y="266.5"/><use href="#op" x="218" y="271.5"/></g>
<g id="t8d"><rect class="th" x="87" y="290" width="31" height="5" rx="1"/><circle class="ti" cx="115" cy="292.5" r="1.5"/><text class="h" x="89" y="293.6">Tester_9</text><rect class="tp" x="92" y="295" width="24" height="5"/><text class="s" x="94" y="298.5">Passed</text><rect class="tp" x="92" y="300" width="24" height="5"/><text class="s" x="94" y="303.5">Failed</text><use href="#ip" x="87" y="292.5"/><use href="#op" x="116" y="297.5"/><use href="#op" x="116" y="302.5"/></g>
<g id="t8e"><rect class="th" x="153" y="290" width="31" height="5" rx="1"/><circle class="ti" cx="181" cy="292.5" r="1.5"/><text class="h" x="155" y="293.6">Sorter</text><rect class="tp" x="158" y="295" width="24" height="5"/><text class="s" x="160" y="298.5">Sorted</text><rect class="tp" x="158" y="300" width="24" height="5"/><text class="s" x="160" y="303.5">&lt;Rejected&gt;</text><use href="#ip" x="153" y="292.5"/><use href="#op" x="182" y="297.5"/><use href="#op" x="182" y="302.5"/></g>
<g id="t8f"><rect class="th" x="212" y="285" width="34" height="5" rx="1"/><circle class="ti" cx="243" cy="287.5" r="1.5"/><text class="h" x="214" y="288.6">Counter</text><rect class="tp" x="217" y="290" width="27" height="5"/><text class="s" x="219" y="293.5">Output</text><rect class="tp" x="217" y="295" width="27" height="5"/><text class="s" x="219" y="298.5">Summary</text><rect class="tp" x="217" y="300" width="27" height="5"/><text class="s" x="219" y="303.5">&lt;Rejected&gt;</text><use href="#ip" x="212" y="287.5"/><use href="#op" x="244" y="292.5"/><use href="#op" x="244" y="297.5"/><use href="#op" x="244" y="302.5"/></g>
<g id="t8g"><rect class="th" x="212" y="318" width="34" height="5" rx="1"/><circle class="ti" cx="243" cy="320.5" r="1.5"/><text class="h" x="214" y="321.6">ListBuilder</text><rect class="tp" x="217" y="323" width="27" height="5"/><text class="s" x="219" y="326.5">Output</text><rect class="tp" x="217" y="328" width="27" height="5"/><text class="s" x="219" y="331.5">&lt;Rejected&gt;</text><use href="#ip" x="212" y="320.5"/><use href="#op" x="244" y="325.5"/><use href="#op" x="244" y="330.5"/></g>
<g id="reader-8"><rect class="rd" x="199" y="340" width="73" height="6" rx="1"/><circle class="rc" cx="200.5" cy="343" r="3.5"/><circle class="rdt" cx="200.5" cy="343" r="1.4"/><text x="205" y="344.1">FeatureReader_sg_fh_Road_Nodes_T</text><circle class="ri" cx="269" cy="343" r="1.4"/></g>
<g id="t8h"><rect class="th" x="265" y="280" width="38" height="5" rx="1"/><circle class="ti" cx="300" cy="282.5" r="1.5"/><text class="h" x="267" y="283.6">FeatureMerger</text><rect class="tp" x="270" y="285" width="31" height="4.6"/><text class="s" x="272" y="288.4">Requestor</text><rect class="tp" x="270" y="289.6" width="31" height="4.6"/><text class="s" x="272" y="293">Supplier</text><rect class="tp" x="270" y="294.2" width="31" height="4.6"/><text class="s" x="272" y="297.6">Merged</text><rect class="tp" x="270" y="298.8" width="31" height="4.6"/><text class="s" x="272" y="302.2">NotMerged</text><rect class="tp" x="270" y="303.4" width="31" height="4.6"/><text class="s" x="272" y="306.8">&lt;Rejected&gt;</text><use href="#ip" x="270" y="287.3"/><use href="#ip" x="270" y="291.9"/><use href="#op" x="301" y="296.5"/><use href="#op" x="301" y="301.1"/><use href="#op" x="301" y="305.7"/></g>
<g id="t8i"><rect class="th" x="325" y="289" width="34" height="5" rx="1"/><circle class="ti" cx="356" cy="291.5" r="1.5"/><text class="h" x="327" y="292.6">Tester_10</text><rect class="tp" x="330" y="294" width="27" height="5"/><text class="s" x="332" y="297.5">Passed</text><rect class="tp" x="330" y="299" width="27" height="5"/><text class="s" x="332" y="302.5">Failed</text><use href="#ip" x="325" y="291.5"/><use href="#op" x="357" y="296.5"/><use href="#op" x="357" y="301.5"/></g>
<g id="t8j"><rect class="th" x="383" y="286" width="34" height="5" rx="1"/><circle class="ti" cx="414" cy="288.5" r="1.5"/><text class="h" x="385" y="289.6">AttributeManager_11</text><rect class="tp" x="388" y="291" width="27" height="5"/><text class="s" x="390" y="294.5">Output</text><use href="#ip" x="383" y="288.5"/><use href="#op" x="415" y="293.5"/></g>
<g id="t8k"><rect class="th" x="387" y="303" width="35" height="5" rx="1"/><circle class="ti" cx="419" cy="305.5" r="1.5"/><text class="h" x="389" y="306.6">AttributeManager_12</text><rect class="tp" x="392" y="308" width="28" height="5"/><text class="s" x="394" y="311.5">Output</text><use href="#ip" x="387" y="305.5"/><use href="#op" x="420" y="310.5"/></g>
<g id="writer-8a"><rect class="rd" x="431" y="272" width="37" height="6" rx="1"/><text x="433" y="276">road_net_edges</text><circle class="ri" cx="465" cy="275" r="1.4"/><circle class="rc" cx="471.5" cy="275" r="3.5"/><circle class="rdt" cx="471.5" cy="275" r="1.4"/><rect class="wr" x="435" y="278" width="31" height="4.2"/><text class="s" x="437" y="281.2">fid</text><rect class="wr" x="435" y="282.2" width="31" height="4.2"/><text class="s" x="437" y="285.4">edge_id</text><rect class="wr" x="435" y="286.4" width="31" height="4.2"/><text class="s" x="437" y="289.6">road_class</text><rect class="wr" x="435" y="290.6" width="31" height="4.2"/><text class="s" x="437" y="293.8">name</text><rect class="wr" x="435" y="294.8" width="31" height="4.2"/><text class="s" x="437" y="298">seq_no</text></g>
<g id="writer-8b"><rect class="rd" x="431" y="322" width="37" height="6" rx="1"/><text x="433" y="326">road_net_nodes</text><circle class="ri" cx="465" cy="325" r="1.4"/><circle class="rc" cx="471.5" cy="325" r="3.5"/><circle class="rdt" cx="471.5" cy="325" r="1.4"/><rect class="wr" x="435" y="328" width="31" height="4.4"/><text class="s" x="437" y="331.3">fid</text><rect class="wr" x="435" y="332.4" width="31" height="4.4"/><text class="s" x="437" y="335.7">node_id</text><rect class="wr" x="435" y="336.8" width="31" height="4.4"/><text class="s" x="437" y="340.1">road_class</text><rect class="wr" x="435" y="341.2" width="31" height="4.4"/><text class="s" x="437" y="344.5">name</text><rect class="wr" x="435" y="345.6" width="31" height="4.4"/><text class="s" x="437" y="348.9">seq_no</text></g>
<g id="ann-8a"><rect class="an" x="36" y="310" width="57" height="29" rx="2.5"/><text class="b" x="39" y="314">Tester_9 (Tester)</text><text class="s" x="39" y="317.5">Test Clauses</text><rect class="tl" x="40" y="319" width="50" height="9"/><path class="tl" d="M40,323.5H90M61,319V328M72,319V328"/><text class="s" x="41" y="322.2">Left Value</text><text class="s" x="62" y="322.2">Operator</text><text class="s" x="73" y="322.2">Right Value</text><text class="s" x="41" y="326.7">@Value(oneway)</text><text class="s" x="62" y="326.7">=</text><text class="s" x="73" y="326.7">yes</text><text class="s" x="39" y="331">Pass Criteria</text><text class="s" x="40" y="334.5">One Test (OR) · Mode: Automatic</text></g>
<g id="ann-8b"><rect class="an" x="119" y="307" width="64" height="52" rx="2.5"/><text class="b" x="122" y="311.5">Sorter (Sorter)</text><text class="s" x="122" y="315">Sort By</text><text class="s" x="124" y="318.5">Sort Type: Alphabetic  ASC</text><text class="s" x="124" y="322">Sort Order: Numeric  ASC</text><text class="s" x="124" y="325.5">Attribute: road_class_category  ASC</text><text class="s" x="122" y="329">Group Processing</text><text class="s" x="124" y="332.5">Group By: road_id</text><text class="s" x="124" y="336">Sorted Order: Ascending</text><text class="s" x="124" y="339.5">Output Attribute: seq_no</text><text class="s" x="124" y="343">Output Feature Sorted: Yes</text></g>
<g id="ann-8c"><rect class="an" x="307" y="317" width="61" height="31" rx="2.5"/><text class="b" x="310" y="321.5">Tester_10 (Tester)</text><text class="s" x="310" y="325">Test Clauses</text><rect class="tl" x="311" y="327" width="55" height="9"/><path class="tl" d="M311,331.5H366M334,327V336M346,327V336"/><text class="s" x="312" y="330.2">Left Value</text><text class="s" x="335" y="330.2">Operator</text><text class="s" x="347" y="330.2">Right Value</text><text class="s" x="312" y="334.7">@Value(_count)</text><text class="s" x="335" y="334.7">=</text><text class="s" x="347" y="334.7">0</text><text class="s" x="310" y="340">Pass Criteria</text><text class="s" x="311" y="343.5">One Test (OR) · Mode: Automatic</text></g>

<!-- ===== G9 ===== -->
<g id="ann-9a"><rect class="an" x="574" y="248" width="68" height="31" rx="2.5"/><text class="b" x="578" y="252.5">Tester_11 (Tester)</text><text class="s" x="578" y="256">Test Clauses</text><rect class="tl" x="579" y="258" width="60" height="9"/><path class="tl" d="M579,262.5H639M603,258V267M615,258V267"/><text class="s" x="580" y="261.2">Left Value</text><text class="s" x="604" y="261.2">Operator</text><text class="s" x="616" y="261.2">Right Value</text><text class="s" x="580" y="265.7">@Value(utility)</text><text class="s" x="604" y="265.7">=</text><text class="s" x="616" y="265.7">power</text><text class="s" x="578" y="271">Pass Criteria</text><text class="s" x="579" y="274.5">One Test (OR) · Comparison Mode: Automatic</text></g>
<g id="ann-9b"><rect class="an" x="723" y="248" width="75" height="69" rx="2.5"/><text class="b" x="727" y="252.5">Tester_12 (Tester)</text><text class="s" x="727" y="256">Test Clauses</text><rect class="tl" x="728" y="258" width="67" height="46.8"/><path class="tl" d="M728,263.2H795M728,268.4H795M728,273.6H795M728,278.8H795M728,284H795M728,289.2H795M728,294.4H795M728,299.6H795M735,258V304.8M762,258V304.8M773,258V304.8"/>
<text class="s" x="729" y="261.7">Logic</text><text class="s" x="736" y="261.7">Left Value</text><text class="s" x="763" y="261.7">Operator</text><text class="s" x="774" y="261.7">Right Value</text>
<text class="s" x="736" y="266.9">@Value(power)</text><text class="s" x="763" y="266.9">=</text><text class="s" x="774" y="266.9">cable</text>
<text class="s" x="729" y="272.1">OR</text><text class="s" x="736" y="272.1">@Value(power)</text><text class="s" x="763" y="272.1">=</text><text class="s" x="774" y="272.1">line</text>
<text class="s" x="729" y="277.3">OR</text><text class="s" x="736" y="277.3">@Value(power)</text><text class="s" x="763" y="277.3">=</text><text class="s" x="774" y="277.3">minor_line</text>
<text class="s" x="729" y="282.5">OR</text><text class="s" x="736" y="282.5">@Value(power)</text><text class="s" x="763" y="282.5">=</text><text class="s" x="774" y="282.5">tower</text>
<text class="s" x="729" y="287.7">OR</text><text class="s" x="736" y="287.7">@Value(power)</text><text class="s" x="763" y="287.7">=</text><text class="s" x="774" y="287.7">pole</text>
<text class="s" x="729" y="292.9">OR</text><text class="s" x="736" y="292.9">@Value(power)</text><text class="s" x="763" y="292.9">=</text><text class="s" x="774" y="292.9">substation</text>
<text class="s" x="729" y="298.1">OR</text><text class="s" x="736" y="298.1">@Value(power)</text><text class="s" x="763" y="298.1">=</text><text class="s" x="774" y="298.1">transformer</text>
<text class="s" x="729" y="303.3">OR</text><text class="s" x="736" y="303.3">@Value(power)</text><text class="s" x="763" y="303.3">=</text><text class="s" x="774" y="303.3">switchgear</text>
<text class="s" x="727" y="309.5">Pass Criteria</text><text class="s" x="728" y="313">One Test (OR) · Comparison Mode: Automatic</text></g>
<g id="reader-9"><rect class="rd" x="505" y="288" width="52" height="6" rx="1"/><circle class="rc" cx="506.5" cy="291" r="3.5"/><circle class="rdt" cx="506.5" cy="291" r="1.4"/><text x="511" y="292.1">FeatureReader_sg_fh_Utility</text><circle class="ri" cx="554" cy="291" r="1.4"/></g>
<g id="tester-9a"><rect class="th" x="596" y="283" width="36" height="5" rx="1"/><circle class="ti" cx="629" cy="285.5" r="1.5"/><text class="h" x="598" y="286.6">Tester_11</text><rect class="tp" x="601" y="288" width="29" height="5"/><text class="s" x="603" y="291.5">Passed</text><rect class="tp" x="601" y="293" width="29" height="5"/><text class="s" x="603" y="296.5">Failed</text><use href="#ip" x="596" y="285.5"/><use href="#op" x="630" y="290.5"/><use href="#op" x="630" y="295.5"/></g>
<g id="tester-9b"><rect class="th" x="663" y="283" width="35" height="5" rx="1"/><circle class="ti" cx="695" cy="285.5" r="1.5"/><text class="h" x="665" y="286.6">Tester_12</text><rect class="tp" x="668" y="288" width="28" height="5"/><text class="s" x="670" y="291.5">Passed</text><rect class="tp" x="668" y="293" width="28" height="5"/><text class="s" x="670" y="296.5">Failed</text><use href="#ip" x="663" y="285.5"/><use href="#op" x="696" y="290.5"/><use href="#op" x="696" y="295.5"/></g>
<g id="tester-9c"><rect class="th" x="663" y="305" width="35" height="5" rx="1"/><circle class="ti" cx="695" cy="307.5" r="1.5"/><text class="h" x="665" y="308.6">Tester_13</text><rect class="tp" x="668" y="310" width="28" height="5"/><text class="s" x="670" y="313.5">Passed</text><rect class="tp" x="668" y="315" width="28" height="5"/><text class="s" x="670" y="318.5">Failed</text><use href="#ip" x="663" y="307.5"/><use href="#op" x="696" y="312.5"/><use href="#op" x="696" y="317.5"/></g>
<g id="ann-9c"><rect class="an" x="510" y="307" width="72" height="35" rx="2.5"/><text class="b" x="514" y="311.5">Tester_15 (Tester)</text><text class="s" x="514" y="315">Test Clauses</text><rect class="tl" x="515" y="317" width="64" height="14.4"/><path class="tl" d="M515,321.8H579M515,326.6H579M522,317V331.4M547,317V331.4M558,317V331.4"/><text class="s" x="516" y="320.5">Logic</text><text class="s" x="523" y="320.5">Left Value</text><text class="s" x="548" y="320.5">Operator</text><text class="s" x="559" y="320.5">Right Value</text><text class="s" x="523" y="325.3">@Value(pipeline)</text><text class="s" x="548" y="325.3">=</text><text class="s" x="559" y="325.3">gas_main</text><text class="s" x="516" y="330.1">OR</text><text class="s" x="523" y="330.1">@Value(pipeline)</text><text class="s" x="548" y="330.1">=</text><text class="s" x="559" y="330.1">gas_service</text><text class="s" x="514" y="336">Pass Criteria</text><text class="s" x="515" y="339.5">One Test (OR) · Comparison Mode: Automatic</text></g>
<g id="ann-9d"><rect class="an" x="633" y="328" width="72" height="42" rx="2.5"/><text class="b" x="637" y="332.5">Tester_13 (Tester)</text><text class="s" x="637" y="336">Test Clauses</text><rect class="tl" x="638" y="338" width="64" height="19.2"/><path class="tl" d="M638,342.8H702M638,347.6H702M638,352.4H702M645,338V357.2M670,338V357.2M681,338V357.2"/><text class="s" x="639" y="341.5">Logic</text><text class="s" x="646" y="341.5">Left Value</text><text class="s" x="671" y="341.5">Operator</text><text class="s" x="682" y="341.5">Right Value</text><text class="s" x="646" y="346.3">@Value(water)</text><text class="s" x="671" y="346.3">=</text><text class="s" x="682" y="346.3">water_main</text><text class="s" x="639" y="351.1">OR</text><text class="s" x="646" y="351.1">@Value(water)</text><text class="s" x="671" y="351.1">=</text><text class="s" x="682" y="351.1">water_service</text><text class="s" x="639" y="355.9">OR</text><text class="s" x="646" y="355.9">@Value(water)</text><text class="s" x="671" y="355.9">=</text><text class="s" x="682" y="355.9">hydrant</text><text class="s" x="637" y="362">Pass Criteria</text><text class="s" x="638" y="365.5">One Test (OR) · Comparison Mode: Automatic</text></g>
<g id="attrmgr-9a"><rect class="th" x="735" y="325" width="34" height="5" rx="1"/><circle class="ti" cx="766" cy="327.5" r="1.5"/><text class="h" x="737" y="328.6">AttributeManager_13</text><rect class="tp" x="740" y="330" width="27" height="5"/><text class="s" x="742" y="333.5">Output</text><use href="#ip" x="735" y="327.5"/><use href="#op" x="767" y="332.5"/></g>
<g id="attrmgr-9b"><rect class="th" x="729" y="352" width="34" height="5" rx="1"/><circle class="ti" cx="760" cy="354.5" r="1.5"/><text class="h" x="731" y="355.6">AttributeManager_14</text><rect class="tp" x="734" y="357" width="27" height="5"/><text class="s" x="736" y="360.5">Output</text><use href="#ip" x="729" y="354.5"/><use href="#op" x="761" y="359.5"/></g>
<g id="writer-9a"><rect class="rd" x="788" y="323" width="29" height="6" rx="1"/><text x="790" y="327">power_lines</text><circle class="ri" cx="814" cy="326" r="1.4"/><circle class="rc" cx="820.5" cy="326" r="3.5"/><circle class="rdt" cx="820.5" cy="326" r="1.4"/><rect class="wr" x="792" y="329" width="24" height="4.2"/><text class="s" x="794" y="332.2">fid</text><rect class="wr" x="792" y="333.2" width="24" height="4.2"/><text class="s" x="794" y="336.4">power</text><rect class="wr" x="792" y="337.4" width="24" height="4.2"/><text class="s" x="794" y="340.6">voltage</text><rect class="wr" x="792" y="341.6" width="24" height="4.2"/><text class="s" x="794" y="344.8">operator</text><rect class="wr" x="792" y="345.8" width="24" height="4.2"/><text class="s" x="794" y="349">name</text></g>
<g id="writer-9b"><rect class="rd" x="788" y="367" width="29" height="6" rx="1"/><text x="790" y="371">power_points</text><circle class="ri" cx="814" cy="370" r="1.4"/><circle class="rc" cx="820.5" cy="370" r="3.5"/><circle class="rdt" cx="820.5" cy="370" r="1.4"/><rect class="wr" x="792" y="373" width="24" height="4.2"/><text class="s" x="794" y="376.2">fid</text><rect class="wr" x="792" y="377.2" width="24" height="4.2"/><text class="s" x="794" y="380.4">power</text><rect class="wr" x="792" y="381.4" width="24" height="4.2"/><text class="s" x="794" y="384.6">voltage</text><rect class="wr" x="792" y="385.6" width="24" height="4.2"/><text class="s" x="794" y="388.8">operator</text><rect class="wr" x="792" y="389.8" width="24" height="4.2"/><text class="s" x="794" y="393">name</text></g>
<g id="tester-9d"><rect class="th" x="557" y="376" width="35" height="5" rx="1"/><circle class="ti" cx="589" cy="378.5" r="1.5"/><text class="h" x="559" y="379.6">Tester_14</text><rect class="tp" x="562" y="381" width="28" height="5"/><text class="s" x="564" y="384.5">Passed</text><rect class="tp" x="562" y="386" width="28" height="5"/><text class="s" x="564" y="389.5">Failed</text><use href="#ip" x="557" y="378.5"/><use href="#op" x="590" y="383.5"/><use href="#op" x="590" y="388.5"/></g>
<g id="tester-9e"><rect class="th" x="622" y="376" width="35" height="5" rx="1"/><circle class="ti" cx="654" cy="378.5" r="1.5"/><text class="h" x="624" y="379.6">Tester_15</text><rect class="tp" x="627" y="381" width="28" height="5"/><text class="s" x="629" y="384.5">Passed</text><rect class="tp" x="627" y="386" width="28" height="5"/><text class="s" x="629" y="389.5">Failed</text><use href="#ip" x="622" y="378.5"/><use href="#op" x="655" y="383.5"/><use href="#op" x="655" y="388.5"/></g>
<g id="attrmgr-9c"><rect class="th" x="689" y="380" width="35" height="5" rx="1"/><circle class="ti" cx="721" cy="382.5" r="1.5"/><text class="h" x="691" y="383.6">AttributeManager_15</text><rect class="tp" x="694" y="385" width="28" height="5"/><text class="s" x="696" y="388.5">Output</text><use href="#ip" x="689" y="382.5"/><use href="#op" x="722" y="387.5"/></g>
<g id="attrmgr-9d"><rect class="th" x="633" y="423" width="34" height="5" rx="1"/><circle class="ti" cx="664" cy="425.5" r="1.5"/><text class="h" x="635" y="426.6">AttributeManager_16</text><rect class="tp" x="638" y="428" width="27" height="5"/><text class="s" x="640" y="431.5">Output</text><use href="#ip" x="633" y="425.5"/><use href="#op" x="665" y="430.5"/></g>
<g id="writer-9c"><rect class="rd" x="743" y="396" width="29" height="6" rx="1"/><text x="745" y="400">gas_pipes</text><circle class="ri" cx="769" cy="399" r="1.4"/><circle class="rc" cx="775.5" cy="399" r="3.5"/><circle class="rdt" cx="775.5" cy="399" r="1.4"/><rect class="wr" x="747" y="402" width="24" height="4.2"/><text class="s" x="749" y="405.2">fid</text><rect class="wr" x="747" y="406.2" width="24" height="4.2"/><text class="s" x="749" y="409.4">pipeline</text><rect class="wr" x="747" y="410.4" width="24" height="4.2"/><text class="s" x="749" y="413.6">diameter</text><rect class="wr" x="747" y="414.6" width="24" height="4.2"/><text class="s" x="749" y="417.8">operator</text><rect class="wr" x="747" y="418.8" width="24" height="4.2"/><text class="s" x="749" y="422">name</text></g>
<g id="writer-9d"><rect class="rd" x="692" y="423" width="27" height="6" rx="1"/><text x="694" y="427">water_out</text><circle class="ri" cx="716" cy="426" r="1.4"/><circle class="rc" cx="722.5" cy="426" r="3.5"/><circle class="rdt" cx="722.5" cy="426" r="1.4"/><rect class="wr" x="696" y="429" width="22" height="4.2"/><text class="s" x="698" y="432.2">fid</text><rect class="wr" x="696" y="433.2" width="22" height="4.2"/><text class="s" x="698" y="436.4">water</text><rect class="wr" x="696" y="437.4" width="22" height="4.2"/><text class="s" x="698" y="440.6">diameter</text><rect class="wr" x="696" y="441.6" width="22" height="4.2"/><text class="s" x="698" y="444.8">material</text><rect class="wr" x="696" y="445.8" width="22" height="4.2"/><text class="s" x="698" y="449">name</text></g>
<g id="ann-9e"><rect class="an" x="523" y="397" width="80" height="56" rx="2.5"/><text class="b" x="527" y="401.5">Tester_14 (Tester)</text><text class="s" x="527" y="405">Test Clauses</text><rect class="tl" x="529" y="407" width="71" height="36.4"/><path class="tl" d="M529,412.2H600M529,417.4H600M529,422.6H600M529,427.8H600M529,433H600M529,438.2H600M536,407V443.4M563,407V443.4M574,407V443.4"/>
<text class="s" x="530" y="410.6">Logic</text><text class="s" x="537" y="410.6">Left Value</text><text class="s" x="564" y="410.6">Operator</text><text class="s" x="575" y="410.6">Right Value</text>
<text class="s" x="537" y="415.8">@Value(sewer)</text><text class="s" x="564" y="415.8">=</text><text class="s" x="575" y="415.8">sewer_main</text>
<text class="s" x="530" y="421">OR</text><text class="s" x="537" y="421">@Value(sewer)</text><text class="s" x="564" y="421">=</text><text class="s" x="575" y="421">sewer_lateral</text>
<text class="s" x="530" y="426.2">OR</text><text class="s" x="537" y="426.2">@Value(sewer)</text><text class="s" x="564" y="426.2">=</text><text class="s" x="575" y="426.2">manhole</text>
<text class="s" x="530" y="431.4">OR</text><text class="s" x="537" y="431.4">@Value(sewer)</text><text class="s" x="564" y="431.4">=</text><text class="s" x="575" y="431.4">storm_drain</text>
<text class="s" x="530" y="436.6">OR</text><text class="s" x="537" y="436.6">@Value(sewer)</text><text class="s" x="564" y="436.6">=</text><text class="s" x="575" y="436.6">culvert</text>
<text class="s" x="530" y="441.8">OR</text><text class="s" x="537" y="441.8">@Value(sewer)</text><text class="s" x="564" y="441.8">=</text><text class="s" x="575" y="441.8">outfall</text>
<text class="s" x="527" y="447.5">Pass Criteria</text><text class="s" x="528" y="451">One Test (OR) · Comparison Mode: Automatic</text></g>

<!-- ===== G10 ===== -->
<g id="reader-10"><rect class="rd" x="32" y="404" width="55" height="6" rx="1"/><circle class="rc" cx="33.5" cy="407" r="3.5"/><circle class="rdt" cx="33.5" cy="407" r="1.4"/><text x="38" y="408.1">FeatureReader_sg_fh_Vegetation</text><circle class="ri" cx="84" cy="407" r="1.4"/></g>
<g id="ann-10"><rect class="an" x="104" y="375" width="69" height="30" rx="2.5"/><text class="b" x="108" y="379.5">Tester_16 (Tester)</text><text class="s" x="108" y="383">Test Clauses</text><rect class="tl" x="109" y="385" width="61" height="9"/><path class="tl" d="M109,389.5H170M133,385V394M145,385V394"/><text class="s" x="110" y="388.2">Left Value</text><text class="s" x="134" y="388.2">Operator</text><text class="s" x="146" y="388.2">Right Value</text><text class="s" x="110" y="392.7">@Value(landcover)</text><text class="s" x="134" y="392.7">=</text><text class="s" x="146" y="392.7">forest</text><text class="s" x="108" y="398">Pass Criteria</text><text class="s" x="109" y="401.5">One Test (OR) · Comparison Mode: Automatic</text></g>
<g id="tester-10"><rect class="th" x="112" y="410" width="35" height="5" rx="1"/><circle class="ti" cx="144" cy="412.5" r="1.5"/><text class="h" x="114" y="413.6">Tester_16</text><rect class="tp" x="117" y="415" width="28" height="5"/><text class="s" x="119" y="418.5">Passed</text><rect class="tp" x="117" y="420" width="28" height="5"/><text class="s" x="119" y="423.5">Failed</text><use href="#ip" x="112" y="412.5"/><use href="#op" x="145" y="417.5"/><use href="#op" x="145" y="422.5"/></g>
<g id="attrmgr-10"><rect class="th" x="183" y="405" width="35" height="5" rx="1"/><circle class="ti" cx="215" cy="407.5" r="1.5"/><text class="h" x="185" y="408.6">AttributeManager_17</text><rect class="tp" x="188" y="410" width="28" height="5"/><text class="s" x="190" y="413.5">Output</text><use href="#ip" x="183" y="407.5"/><use href="#op" x="216" y="412.5"/></g>
<g id="writer-10"><rect class="rd" x="238" y="403" width="30" height="6" rx="1"/><text x="240" y="407">veg_out</text><circle class="ri" cx="265" cy="406" r="1.4"/><circle class="rc" cx="271.5" cy="406" r="3.5"/><circle class="rdt" cx="271.5" cy="406" r="1.4"/><rect class="wr" x="242" y="409" width="25" height="4.4"/><text class="s" x="244" y="412.3">fid</text><rect class="wr" x="242" y="413.4" width="25" height="4.4"/><text class="s" x="244" y="416.7">landcover</text><rect class="wr" x="242" y="417.8" width="25" height="4.4"/><text class="s" x="244" y="421.1">name</text></g>

<!-- ===== G11 ===== -->
<g id="reader-11"><rect class="rd" x="296" y="378" width="78" height="6" rx="1"/><circle class="rc" cx="297.5" cy="381" r="3.5"/><circle class="rdt" cx="297.5" cy="381" r="1.4"/><text x="302" y="382.1">FeatureReader_sg_fh_Landuse_Areas_Poly_T</text><circle class="ri" cx="371" cy="381" r="1.4"/></g>
<g id="attrmgr-11"><rect class="th" x="387" y="383" width="35" height="5" rx="1"/><circle class="ti" cx="419" cy="385.5" r="1.5"/><text class="h" x="389" y="386.6">AttributeManager_18</text><rect class="tp" x="392" y="388" width="28" height="5"/><text class="s" x="394" y="391.5">Output</text><use href="#ip" x="387" y="385.5"/><use href="#op" x="420" y="390.5"/></g>
<g id="writer-11"><rect class="rd" x="442" y="378" width="28" height="6" rx="1"/><text x="444" y="382">landuse_out</text><circle class="ri" cx="467" cy="381" r="1.4"/><circle class="rc" cx="474" cy="381" r="3.5"/><circle class="rdt" cx="474" cy="381" r="1.4"/><rect class="wr" x="446" y="384" width="23" height="4.4"/><text class="s" x="448" y="387.3">fid</text><rect class="wr" x="446" y="388.4" width="23" height="4.4"/><text class="s" x="448" y="391.7">landuse</text><rect class="wr" x="446" y="392.8" width="23" height="4.4"/><text class="s" x="448" y="396.1">name</text></g>

<!-- ===== G12 ===== -->
<g id="reader-12"><rect class="rd" x="296" y="419" width="77" height="6" rx="1"/><circle class="rc" cx="297.5" cy="422" r="3.5"/><circle class="rdt" cx="297.5" cy="422" r="1.4"/><text x="302" y="423.1">FeatureReader_sg_fh_Elevation_Points_T</text><circle class="ri" cx="370" cy="422" r="1.4"/></g>
<g id="attrmgr-12"><rect class="th" x="387" y="427" width="35" height="5" rx="1"/><circle class="ti" cx="419" cy="429.5" r="1.5"/><text class="h" x="389" y="430.6">AttributeManager_19</text><rect class="tp" x="392" y="432" width="28" height="5"/><text class="s" x="394" y="435.5">Output</text><use href="#ip" x="387" y="429.5"/><use href="#op" x="420" y="434.5"/></g>
<g id="writer-12"><rect class="rd" x="447" y="417" width="26" height="6" rx="1"/><text x="449" y="421">elev_out</text><circle class="ri" cx="470" cy="420" r="1.4"/><circle class="rc" cx="477" cy="420" r="3.5"/><circle class="rdt" cx="477" cy="420" r="1.4"/><rect class="wr" x="451" y="423" width="21" height="4.4"/><text class="s" x="453" y="426.3">fid</text><rect class="wr" x="451" y="427.4" width="21" height="4.4"/><text class="s" x="453" y="430.7">elevation</text><rect class="wr" x="451" y="431.8" width="21" height="4.4"/><text class="s" x="453" y="435.1">name</text></g>
</svg>
